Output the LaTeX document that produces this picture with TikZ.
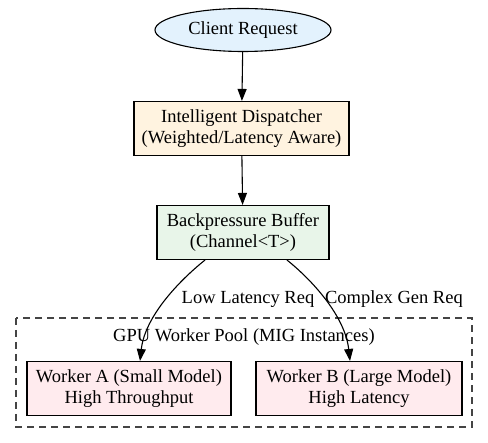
\documentclass[tikz,border=0pt]{standalone}
\usepackage{fontspec}
\setmainfont{Liberation Serif}
\usetikzlibrary{arrows.meta, positioning, shapes.geometric}

\definecolor{clientfill}{HTML}{E3F2FD}
\definecolor{dispfill}{HTML}{FFF3E0}
\definecolor{buffill}{HTML}{E8F5E9}
\definecolor{workfill}{HTML}{FFEBEE}
\definecolor{pooldraw}{HTML}{444444}

\begin{document}
\begin{tikzpicture}[
            x = 1pt, y = -1pt, % pixel grid, y down
            > = {Triangle[length=12pt, width=9pt]}, % arrow head style
            line width = 1.1pt, % line style
            font = \fontsize{18.5}{21.5}\selectfont
        ]

        \tikzstyle{every box}=[
            draw = black,
            rectangle,
            align = center,
            inner sep = 0pt,
            minimum height = 54pt
        ]

        \useasboundingbox (0,0) rectangle (488,443);

        % worker pool
        \draw[pooldraw, dash pattern = on 7pt off 5pt] (16,318) rectangle (472,427);
        \node (pool) at (244,337) {GPU Worker Pool (MIG Instances)};

        \node[ellipse, draw = black, fill = clientfill, inner sep = 0pt,
              minimum width = 176pt, minimum height = 43pt] (client) at (243,30) {Client Request};
        \node[every box, fill = dispfill, minimum width = 215pt] (disp) at (241.5,128.5)
            {Intelligent Dispatcher\\(Weighted/Latency Aware)};
        \node[every box, fill = buffill, minimum width = 172pt] (buf) at (243,232.5)
            {Backpressure Buffer\\(Channel<T>)};
        \node[every box, fill = workfill, minimum width = 204pt] (wa) at (129,388.5)
            {Worker A (Small Model)\\High Throughput};
        \node[every box, fill = workfill, minimum width = 206pt] (wb) at (359,388.5)
            {Worker B (Large Model)\\High Latency};

        \draw[->] (client) -- (disp);
        \draw[->] (disp) -- (buf);
        \draw[->] ([xshift=-38pt]buf.south) .. controls +(-25,20) and +(5,-45) .. ([xshift=11pt]wa.north)
            node[pos=0.42, anchor=west, inner sep=2pt, xshift=8pt, yshift=-6pt] (la) {Low Latency Req};
        \draw[->] ([xshift=44pt]buf.south) .. controls +(25,20) and +(-5,-45) .. ([xshift=-9pt]wb.north)
            node[pos=0.40, anchor=west, inner sep=2pt, xshift=4pt, yshift=-8pt] (lb) {Complex Gen Req};
    \end{tikzpicture}
\end{document}
